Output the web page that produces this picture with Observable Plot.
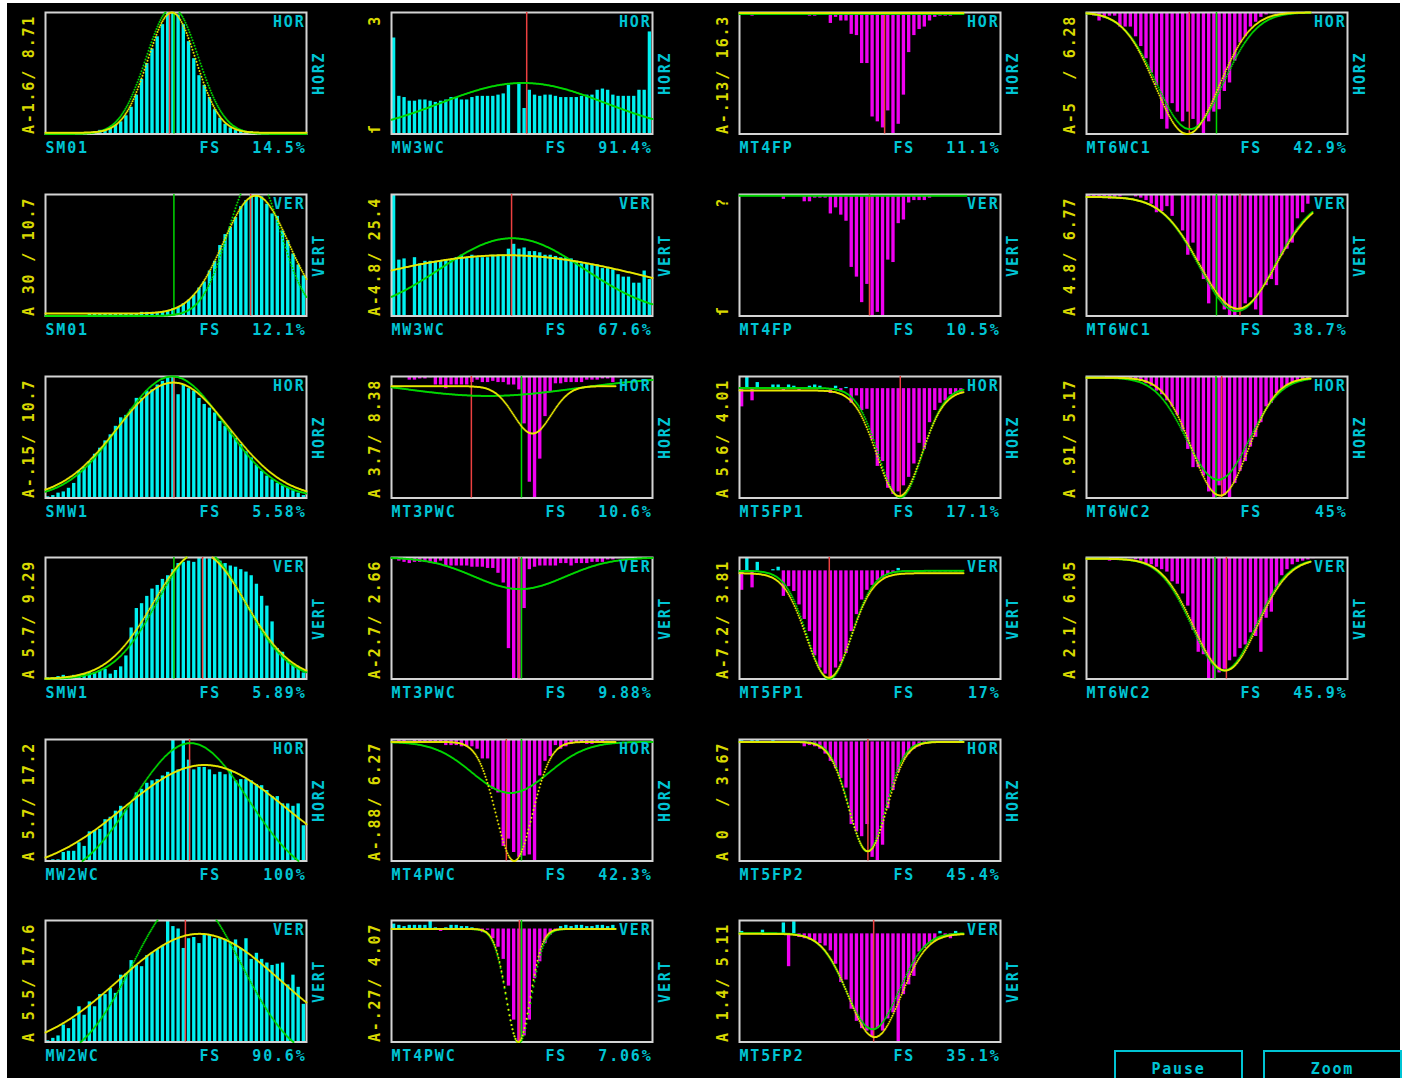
<!DOCTYPE html>
<html><head><meta charset="utf-8">
<script src="https://cdn.jsdelivr.net/npm/d3@7"></script>
<script src="https://cdn.jsdelivr.net/npm/@observablehq/plot@0.6"></script>
<style>
html,body{margin:0;padding:0;background:#fff;overflow:hidden;width:1402px;height:1078px;}
#screen{position:absolute;left:7px;top:3px;width:1393px;height:1075px;background:#000;}
.panel{position:absolute;}
.panel svg text{letter-spacing:1.8px;white-space:pre;}
.btn{position:absolute;border:2px solid #00c4d4;color:#00c4d4;font:bold 15px "DejaVu Sans Mono",monospace;letter-spacing:1.8px;box-sizing:border-box;text-align:center;line-height:34px;}
</style></head><body>
<div id="screen"></div>
<div class="btn" style="left:1114px;top:1050px;width:129px;height:40px;">Pause</div>
<div class="btn" style="left:1263px;top:1050px;width:139px;height:40px;">Zoom</div>
<script>
// ---------- data (column-major: col 1 rows 1-6, col 2 rows 1-6, col 3 rows 1-6, col 4 rows 1-4) ----------
const panelNames = ["SM01","SM01","SMW1","SMW1","MW2WC","MW2WC",
  "MW3WC","MW3WC","MT3PWC","MT3PWC","MT4PWC","MT4PWC",
  "MT4FP","MT4FP","MT5FP1","MT5FP1","MT5FP2","MT5FP2",
  "MT6WC1","MT6WC1","MT6WC2","MT6WC2"];
const panelPct = ["14.5%","12.1%","5.58%","5.89%","100%","90.6%",
  "91.4%","67.6%","10.6%","9.88%","42.3%","7.06%",
  "11.1%","10.5%","17.1%","17%","45.4%","35.1%",
  "42.9%","38.7%","45%","45.9%"];
const leftLabels = ["A-1.6/ 8.71","A 30 / 10.7","A-.15/ 10.7","A 5.7/ 9.29","A 5.7/ 17.2","A 5.5/ 17.6",
  "ſ         3","A-4.8/ 25.4","A 3.7/ 8.38","A-2.7/ 2.66","A-.88/ 6.27","A-.27/ 4.07",
  "A-.13/ 16.3","ſ         ?","A 5.6/ 4.01","A-7.2/ 3.81","A 0  / 3.67","A 1.4/ 5.11",
  "A-5  / 6.28","A 4.8/ 6.77","A .91/ 5.17","A 2.1/ 6.05"];
const orientShort = ["HOR","VER"];
const orientLong = ["HORZ","VERT"];

// baseline of the bars, % of panel height
const barBase = [0,0,0,0,0,0, 0,0,100,100,100,93, 100,100,90,89,98,89, 100,100,100,100];

// bar values (50 bins per panel), % of panel height, signed from the baseline
const barValues = [
 [1,1,1,1,1,1,1,1,1,2,3,3,5,7,10,15,22,32,45,58,70,80,90,100,100,98,90,76,62,48,40,30,20,13,8,5,3,3,2,2,1,1,1,1,1,1,1,1,1,1],
 [0,0,0,0,0,0,0,0,2,2,2,2,2,2,2,2,2,2,3,3,3,3,3,4,6,7,10,13,17,23,28,37,45,58,67,73,81,90,95,99,100,98,92,84,82,70,62,51,42,33],
 [1,2,4,5,8,12,22,25,30,36,41,47,52,59,66,68,73,82,82,88,89,93,96,99,100,85,93,90,88,82,77,74,70,63,59,55,49,44,38,33,27,22,18,15,12,10,8,6,4,2],
 [1,1,2,3,2,3,3,4,5,5,7,8,4,7,10,19,42,58,62,68,74,77,82,85,90,95,96,97,96,100,100,99,99,97,95,93,92,90,88,85,78,68,60,47,25,22,15,11,10,5],
 [0,1,1,7,8,8,15,12,24,25,26,34,36,41,45,42,48,56,59,64,66,67,70,73,100,75,100,83,75,77,77,75,71,73,71,74,66,67,67,66,63,62,58,53,53,47,47,45,47,29],
 [1,3,5,14,11,19,29,22,33,29,39,39,44,40,55,56,67,63,62,71,73,76,79,100,95,93,77,85,86,81,88,88,85,86,84,81,84,77,85,68,73,68,65,63,64,65,47,55,45,31],
 [79,31,30,27,27,28,28,27,26,27,28,30,30,28,28,30,31,31,31,31,32,33,40,0,42,21,36,32,31,32,32,31,30,30,30,30,31,32,32,36,37,36,32,31,31,31,31,36,36,84],
 [100,46,47,0,48,43,45,45,45,45,46,46,48,50,48,50,48,48,48,50,50,50,55,59,55,56,53,53,52,50,50,49,48,48,47,45,43,43,42,42,39,39,38,34,32,32,27,27,37,30],
 [0,0,0,-3,-3,-2,-2,-1,-7,-7,-10,-7,-7,-7,-7,-5,-3,-5,-5,-4,-5,-5,-7,-7,-11,-39,-87,-100,-68,-33,-13,-6,-6,-5,-5,-5,-5,-3,-3,-3,-2,-2,-5,-1,0,0,0,0,0,0],
 [0,-3,-4,-5,-4,-4,-4,-5,-5,-3,-7,-7,-7,-7,-7,-8,-8,-8,-9,-9,-13,-21,-75,-100,-100,-42,-10,-8,-7,-7,-7,-7,-5,-5,-7,-5,-5,-5,-4,-4,-4,-2,-2,-1,-1,-1,-1,-1,0,0],
 [-1,-2,-2,-1,-2,-2,-2,-2,-2,-3,-5,-5,-5,-6,-6,-6,-8,-16,-16,-41,-44,-88,-82,-93,-97,-96,-95,-100,-30,-18,-14,-5,-8,-6,-4,-3,-3,-4,-4,-2,-2,-1,-1,-1,-1,-1,0,0,0,0],
 [4,3,2,3,3,3,3,7,1,-2,1,3,3,2,2,1,0,-3,-1,-8,-15,-25,-47,-75,-93,-88,-75,-41,-27,-12,-5,-2,2,3,2,3,3,2,2,3,3,2,3,0,0,0,0,0,0,0],
 [0,0,-3,0,0,0,0,0,0,0,0,0,0,-3,-3,-1,-1,-9,-4,-7,-7,-18,-19,-42,-42,-86,-90,-95,-81,-100,-92,-68,-33,-19,-14,-12,-7,-4,-3,-3,-3,-2,0,0,0,0,0,0,0,0],
 [0,0,0,0,0,0,0,0,-4,0,0,0,-6,-6,-3,-3,-3,-16,-11,-17,-22,-60,-68,-89,-74,-100,-97,-100,-54,-56,-24,-21,-7,-5,-5,-5,-3,0,0,0,0,0,0,0,0,0,0,0,0,0],
 [-15,10,-10,5,0,0,3,3,-2,3,2,-2,0,2,3,2,0,-4,2,-2,1,-12,-6,-18,-17,-42,-64,-60,-82,-87,-85,-80,-73,-62,-45,-50,-28,-18,-12,-10,-5,-4,-3,0,0,0,0,0,0,0],
 [-16,11,-14,7,0,0,1,3,-21,-13,-17,-28,-40,-50,-70,-80,-85,-88,-80,-75,-68,-50,-36,-24,-16,-12,-8,-6,-3,-2,2,-1,-1,-1,-1,-1,-1,-1,-1,-1,-1,-1,-1,0,0,0,0,0,0,0],
 [1,0,1,1,0,0,1,0,0,0,0,0,-4,-3,-4,-6,-10,-16,-22,-30,-38,-68,-74,-78,-68,-95,-98,-85,-55,-40,-25,-15,-10,-6,-4,-2,-1,0,0,0,0,0,1,0,0,0,0,0,0,0],
 [2,0,0,0,3,0,0,0,9,-27,10,-3,-4,-5,-6,-8,-10,-14,-25,-40,-38,-62,-72,-78,-80,-85,-78,-80,-70,-65,-89,-50,-42,-35,-15,-12,-8,-6,2,-3,-4,2,0,0,0,0,0,0,0,0],
 [0,-3,-7,-5,-3,-3,-12,-12,-12,-20,-28,-38,-50,-60,-88,-96,-75,-82,-90,-82,-88,-95,-100,-90,-82,-80,-65,-58,-40,-25,-20,-12,-8,-4,-2,-1,-1,-1,-1,-1,0,0,0,0,0,0,0,0,0,0],
 [-2,-2,-3,-2,-4,-3,-2,1,0,-2,-3,-5,-8,-15,-14,-10,-18,2,-30,-50,-40,-55,-70,-90,-78,-85,-95,-100,-100,-95,-90,-85,-95,-100,-75,-70,-75,-50,-45,-40,-20,-15,-8,0,0,0,0,0,0,0],
 [0,0,0,0,-2,-2,-1,-1,-2,-3,-4,-6,-8,-12,-15,-20,-25,-32,-45,-60,-75,-75,-82,-95,-100,-90,-98,-100,-88,-78,-70,-58,-50,-38,-25,-22,-14,-10,-8,-6,-4,-3,-2,0,0,0,0,0,0,0],
 [-1,-1,-1,-1,-3,-1,-1,-1,-1,-2,-3,-5,-6,-8,-10,-12,-20,-22,-30,-40,-60,-78,-80,-100,-100,-95,-92,-85,-82,-75,-72,-62,-65,-78,-50,-45,-25,-15,-10,-6,-4,-3,-2,-1,0,0,0,0,0,0]
];

// Gaussian fit parameters: [baseline, amplitude, centre bin, sigma bins, last bin drawn]
const yellowFit = [
 [1,99,24.2,4.6,50],[2,97,40.3,6.2,50],[0,95,24.5,10.7,50],[0,104,29.5,8.8,50],[-10,89,30.5,15.5,50],[-8,97,29.5,15.5,50],
 null,[0,50,22,29,50],[92,-39,27,3.6,43],null,[98,-98,23.5,3.5,43],[93,-93,24.3,2.3,43],
 [99.5,0,25,1,43],null,[88.5,-87,30.6,4.3,43],[87,-86,17.1,4.3,43],[98,-90,24.6,3.65,43],[89,-85,25.9,5.0,43],
 [100,-100,19.3,6.1,43],[98,-92,29,7.3,43.2],[99,-97,25.6,5.4,43],[99,-92,26.6,6.1,43]
];
const greenFit = [
 [0,104,24.3,5.0,50],[0,115,40.0,5.0,50],[0,100,24.3,10.0,50],[0,106,29.8,8.3,50],[-20,117,27.8,11,50],[-20,140,27.1,10.3,50],
 [0,42,25.2,15.8,50],[0,64,23.1,13.8,50],[100,-16,18.5,17,50],[100,-26,24.6,8.7,50],[98,-42,22.8,7.3,50],[93,-94,24.4,2.4,43],
 [98.8,0,25,1,43],[99,0,25,1,43.5],[90.5,-90,30.8,4.2,43],[89,-89,17.2,4.2,43],[98,-90,24.5,3.5,43],[89.5,-79,25.5,5.0,43],
 [100,-96,19.8,6.4,43],[98,-94,28.8,7.2,43.2],[99,-84,25.2,6.0,43],[99,-92,26.3,6.1,43]
];
// marker lines (bin position)
const redLine = [23.75,39.3,24.6,30.1,27.6,26.8, 25.9,23.0,15.3,24.4,22.0,24.5, 27.8,24.9,30.8,17.2,24.6,25.7, 19.7,29.4,25.9,26.8];
const greenLine = [24.6,24.6,null,24.6,null,null, null,null,24.9,24.9,24.9,24.9, null,null,null,null,null,null, 24.9,24.9,24.8,24.6];

// ---------- layout ----------
const COLS = [45,391,739,1086], ROWS = [12,194,375.5,557,738.5,920];
const BW = 261, BH = 121.5, ML = 40, MR = 30, MT = 4, MB = 26, NB = 50;
const C_BAR = "#00f0f0", C_MAG = "#f000f0", C_GRN = "#00d800", C_YEL = "#e8e800",
      C_RED = "#ec4040", C_FRAME = "#d4d4d4", C_TXT = "#00c4d4", C_LBL = "#d8d800";

function fitPoints(p) {
  if (!p) return [];
  const [b, a, c, s, xe] = p;
  const pts = [];
  const npx = Math.round(xe / NB * BW);
  for (let px = 0; px <= npx; px++) {
    const x = px * NB / BW;
    const y = b + a * Math.exp(-((x - c) ** 2) / (2 * s * s));
    if (y >= -0.5 && y <= 100.5) pts.push({x, y: Math.max(0, Math.min(100, y))});
  }
  return pts;
}

panelNames.forEach((name, k) => {
  const col = Math.floor(k / 6), row = k % 6, o = row % 2;
  const base = barBase[k];
  const bars = barValues[k].map((v, i) => ({
    i, v,
    y1: v >= 0 ? base : base + v,
    y2: Math.min(100, v >= 0 ? base + v : base)
  })).filter(d => d.v !== 0);
  const marks = [
    Plot.rect(bars, {x1: d => d.i + 0.18, x2: d => d.i + 0.82, y1: "y1", y2: "y2",
      fill: d => d.v > 0 ? C_BAR : C_MAG}),
    Plot.frame({stroke: C_FRAME, strokeWidth: 2}),
    Plot.ruleX(greenLine[k] == null ? [] : [greenLine[k]], {x: d => d, stroke: C_GRN, strokeWidth: 1.5}),
    Plot.ruleX([redLine[k]], {x: d => d, stroke: C_RED, strokeWidth: 1.5}),
    Plot.dot(fitPoints(greenFit[k]), {x: "x", y: "y", r: 1, fill: C_GRN}),
    Plot.dot(fitPoints(yellowFit[k]), {x: "x", y: "y", r: 1, fill: C_YEL}),
    Plot.text([leftLabels[k]], {text: d => d, frameAnchor: "bottom-left", rotate: -90,
      textAnchor: "start", lineAnchor: "middle", dx: -16, fill: C_LBL}),
    Plot.text([orientLong[o]], {text: d => d, frameAnchor: "right", rotate: -90,
      textAnchor: "middle", lineAnchor: "middle", dx: 13, fill: C_TXT}),
    Plot.text([orientShort[o]], {text: d => d, frameAnchor: "top-right",
      textAnchor: "end", lineAnchor: "top", dx: -1, dy: 4, fill: C_TXT}),
    Plot.text([name], {text: d => d, frameAnchor: "bottom-left",
      textAnchor: "start", lineAnchor: "top", dy: 8, fill: C_TXT}),
    Plot.text(["FS"], {text: d => d, frameAnchor: "bottom-left",
      textAnchor: "start", lineAnchor: "top", dx: 154, dy: 8, fill: C_TXT}),
    Plot.text([panelPct[k]], {text: d => d, frameAnchor: "bottom-right",
      textAnchor: "end", lineAnchor: "top", dx: 0, dy: 8, fill: C_TXT})
  ];
  const chart = Plot.plot({
    width: ML + BW + MR, height: MT + BH + MB,
    marginLeft: ML, marginRight: MR, marginTop: MT, marginBottom: MB,
    x: {domain: [0, NB], axis: null},
    y: {domain: [0, 100], axis: null},
    style: {background: "transparent", color: C_TXT, fontFamily: "'DejaVu Sans Mono', monospace",
      fontSize: "15px", fontWeight: "bold", overflow: "visible"},
    marks
  });
  const div = document.createElement("div");
  div.className = "panel";
  div.style.left = (COLS[col] - ML) + "px";
  div.style.top = (ROWS[row] - MT) + "px";
  div.appendChild(chart);
  document.body.appendChild(div);
});
</script>
</body></html>
